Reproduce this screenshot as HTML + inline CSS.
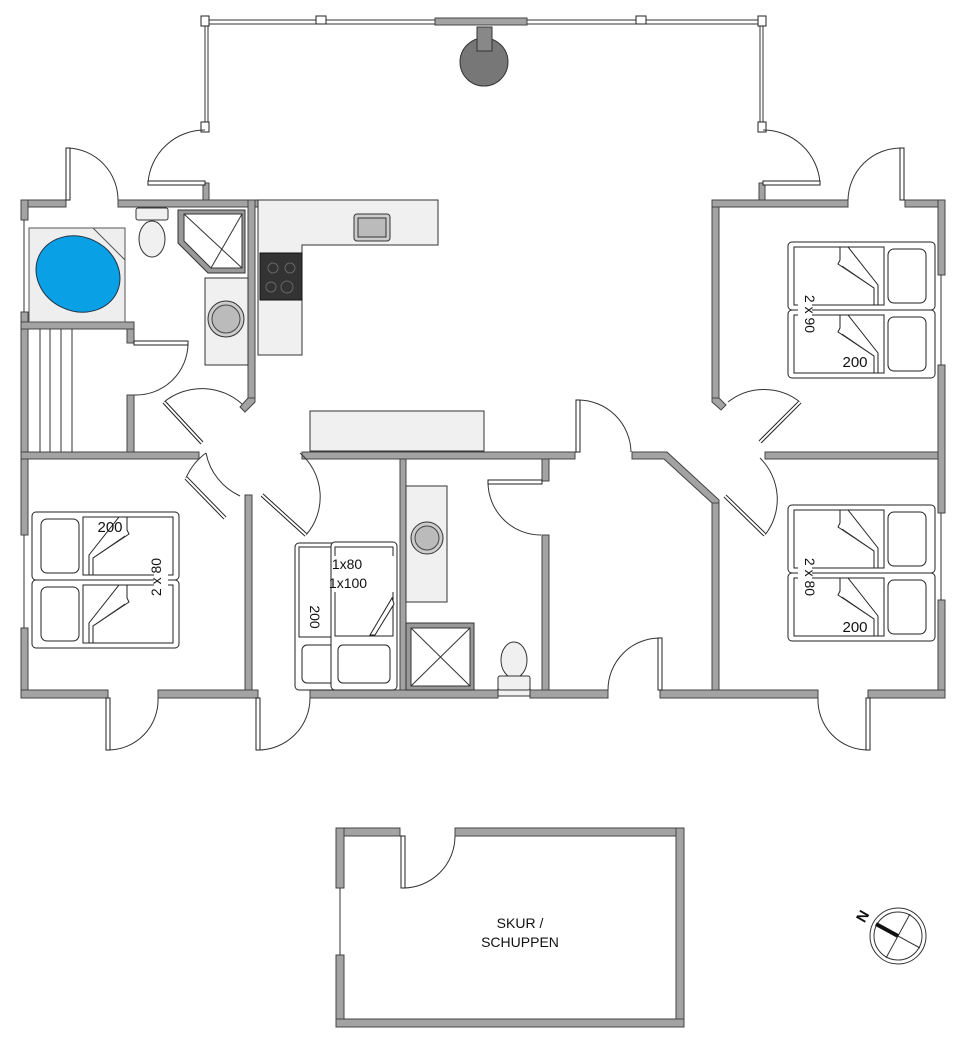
<!DOCTYPE html>
<html><head><meta charset="utf-8"><style>
html,body{margin:0;padding:0;background:#fff;}
svg{display:block}
text{font-family:"Liberation Sans",sans-serif;fill:#111}
.w{fill:#a3a3a3;stroke:#444;stroke-width:1}
.t{fill:none;stroke:#333;stroke-width:1}
.d{fill:#fff;stroke:#222;stroke-width:1}
.c{fill:#f0f0f0;stroke:#333;stroke-width:1}
</style></head><body>
<svg width="964" height="1039" viewBox="0 0 964 1039" xmlns="http://www.w3.org/2000/svg">
<defs>
<g id="bed">
 <rect x="0" y="0" width="147" height="68" rx="4" class="d"/>
 <rect x="6" y="5" width="90" height="58" class="d"/>
 <rect x="100" y="7" width="38" height="54" rx="6" class="d"/>
 <polygon points="52,5 60,5 90,43 90,63 86,63 86,46 50,22 52,18" class="d"/>
 <polyline points="54,24 86,46" class="t"/>
</g>
</defs>

<!-- terrace -->
<g class="t">
<line x1="205" y1="20" x2="762" y2="20"/><line x1="205" y1="24" x2="762" y2="24"/>
<line x1="205" y1="20" x2="205" y2="130"/><line x1="208" y1="20" x2="208" y2="130"/>
<line x1="760" y1="20" x2="760" y2="130"/><line x1="763" y1="20" x2="763" y2="130"/>
</g>
<rect x="435" y="18" width="92" height="7" class="w"/>
<rect x="201" y="16" width="8" height="10" class="d"/><rect x="758" y="16" width="8" height="10" class="d"/>
<rect x="316" y="16" width="10" height="8" class="d"/><rect x="636" y="16" width="10" height="8" class="d"/>
<rect x="201" y="122" width="8" height="10" class="d"/><rect x="758" y="122" width="8" height="10" class="d"/>
<circle cx="484" cy="62" r="24" fill="#777" stroke="#333"/>
<rect x="477" y="27" width="15" height="24" fill="#888" stroke="#333"/>
<rect x="203" y="183" width="6" height="18" class="w"/><rect x="759" y="183" width="6" height="18" class="w"/>
<!-- terrace doors -->
<path d="M148 183 A57 57 0 0 1 205 130" class="t"/><rect x="148" y="181" width="57" height="4" class="d"/>
<path d="M820 183 A57 57 0 0 0 763 130" class="t"/><rect x="763" y="181" width="57" height="4" class="d"/>

<!-- main walls -->
<rect x="21" y="200" width="45" height="7" class="w"/>
<rect x="118" y="200" width="140" height="7" class="w"/>
<rect x="21" y="200" width="7" height="20" class="w"/>
<rect x="21" y="312" width="7" height="223" class="w"/>
<rect x="21" y="628" width="7" height="70" class="w"/>
<line x1="24" y1="220" x2="24" y2="312" class="t"/>
<line x1="24" y1="535" x2="24" y2="628" class="t"/>
<rect x="248" y="200" width="7" height="200" class="w"/>
<polygon points="248,398 255,398 255,402 245,412 240,407" class="w"/>
<rect x="21" y="322" width="113" height="7" class="w"/>
<rect x="127" y="395" width="7" height="60" class="w"/>
<rect x="127" y="329" width="7" height="14" class="w"/>
<rect x="21" y="452" width="178" height="7" class="w"/>
<rect x="302" y="452" width="273" height="7" class="w"/>
<polygon points="632,452 667,452 719,500 719,505 712,505 712,503 664,459 632,459" class="w"/>
<rect x="765" y="452" width="180" height="7" class="w"/>
<rect x="245" y="495" width="7" height="203" class="w"/>
<rect x="400" y="459" width="6" height="231" class="w"/>
<rect x="542" y="459" width="7" height="22" class="w"/>
<rect x="542" y="535" width="7" height="155" class="w"/>
<rect x="712" y="503" width="7" height="190" class="w"/>
<rect x="712" y="200" width="7" height="200" class="w"/>
<polygon points="712,398 719,398 726,405 721,410 712,402" class="w"/>
<rect x="712" y="200" width="136" height="7" class="w"/>
<rect x="905" y="200" width="40" height="7" class="w"/>
<rect x="938" y="200" width="7" height="75" class="w"/>
<rect x="938" y="365" width="7" height="148" class="w"/>
<rect x="938" y="600" width="7" height="98" class="w"/>
<line x1="941" y1="275" x2="941" y2="365" class="t"/>
<line x1="941" y1="513" x2="941" y2="600" class="t"/>
<!-- bottom wall -->
<rect x="21" y="690" width="87" height="8" class="w"/>
<rect x="158" y="690" width="100" height="8" class="w"/>
<rect x="310" y="690" width="188" height="8" class="w"/>
<rect x="530" y="690" width="78" height="8" class="w"/>
<rect x="660" y="690" width="158" height="8" class="w"/>
<rect x="868" y="690" width="77" height="8" class="w"/>
<rect x="498" y="688" width="32" height="8" class="c"/>

<!-- doors -->
<path d="M68 148 A52 52 0 0 1 118 200" class="t"/><rect x="66" y="148" width="4" height="52" class="d"/>
<path d="M848 200 A53 53 0 0 1 901 148" class="t"/><rect x="900" y="148" width="4" height="52" class="d"/>
<path d="M188 343 A52 52 0 0 1 134 395" class="t"/><rect x="134" y="341" width="54" height="4" class="d"/>
<path d="M108 750 A50 50 0 0 0 158 698" class="t"/><rect x="106" y="698" width="4" height="52" class="d"/>
<path d="M258 750 A52 52 0 0 0 310 698" class="t"/><rect x="256" y="698" width="4" height="52" class="d"/>
<path d="M608 690 A52 52 0 0 1 660 638" class="t"/><rect x="658" y="638" width="4" height="52" class="d"/>
<path d="M868 750 A50 50 0 0 1 818 698" class="t"/><rect x="866" y="698" width="4" height="52" class="d"/>
<path d="M578 400 A53 53 0 0 1 631 452" class="t"/><rect x="576" y="400" width="4" height="52" class="d"/>
<path d="M488 482 A53 53 0 0 0 541 535" class="t"/><rect x="488" y="480" width="54" height="4" class="d"/>
<!-- diagonal doors -->
<path d="M164 402 A60 60 0 0 1 242 404" class="t"/><line x1="164" y1="402" x2="202" y2="443" stroke="#222" stroke-width="4"/><line x1="164" y1="402" x2="202" y2="443" stroke="#fff" stroke-width="2"/>
<path d="M240 496 A60 60 0 0 1 206 453" class="t"/><path d="M186 478 A60 60 0 0 1 206 453" class="t"/><line x1="186" y1="478" x2="225" y2="518" stroke="#222" stroke-width="4"/><line x1="186" y1="478" x2="225" y2="518" stroke="#fff" stroke-width="2"/>
<path d="M300 453 A58 58 0 0 1 306 535" class="t"/><line x1="262" y1="495" x2="306" y2="535" stroke="#222" stroke-width="4"/><line x1="262" y1="495" x2="306" y2="535" stroke="#fff" stroke-width="2"/>
<path d="M728 402 A58 58 0 0 1 800 402" class="t"/><line x1="800" y1="402" x2="760" y2="442" stroke="#222" stroke-width="4"/><line x1="800" y1="402" x2="760" y2="442" stroke="#fff" stroke-width="2"/>
<path d="M760 458 A58 58 0 0 1 765 535" class="t"/><line x1="725" y1="496" x2="765" y2="535" stroke="#222" stroke-width="4"/><line x1="725" y1="496" x2="765" y2="535" stroke="#fff" stroke-width="2"/>

<!-- kitchen -->
<polygon points="258,200 438,200 438,245 302,245 302,355 258,355 258,200" class="c"/>
<rect x="260" y="253" width="42" height="47" fill="#333" stroke="#111"/>
<circle cx="273" cy="268" r="5" fill="none" stroke="#666"/><circle cx="290" cy="268" r="5" fill="none" stroke="#666"/>
<circle cx="271" cy="287" r="5" fill="none" stroke="#666"/><circle cx="287" cy="287" r="6" fill="none" stroke="#666"/>
<rect x="354" y="214" width="36" height="27" rx="3" fill="#ccc" stroke="#333"/><rect x="358" y="218" width="28" height="19" fill="#bbb" stroke="#333"/>
<rect x="310" y="411" width="174" height="40" class="c"/>

<!-- bathroom -->
<rect x="29" y="228" width="96" height="94" fill="#eee" stroke="#555"/>
<polygon points="29,228 93,228 125,260 125,322 29,322" fill="#eee" stroke="#555"/>
<ellipse cx="78" cy="274" rx="43" ry="37" transform="rotate(25 78 274)" fill="#0aa0e6" stroke="#234"/>
<rect x="136" y="208" width="32" height="12" rx="2" class="c"/>
<ellipse cx="152" cy="239" rx="13" ry="18" class="c"/>
<polygon points="178,210 245,210 245,273 208,273 178,243" fill="#999" stroke="#333"/>
<polygon points="184,214 242,214 242,268 211,268 184,241" fill="#fff" stroke="#333"/>
<line x1="184" y1="214" x2="242" y2="268" class="t"/><line x1="242" y1="214" x2="211" y2="268" class="t"/>
<rect x="205" y="278" width="43" height="87" class="c"/>
<circle cx="226" cy="319" r="18" fill="#ccc" stroke="#333"/><circle cx="226" cy="319" r="14" fill="#bbb" stroke="#444"/>
<!-- sauna -->
<g class="t"><line x1="40" y1="329" x2="40" y2="452"/><line x1="50" y1="329" x2="50" y2="452"/><line x1="61" y1="329" x2="61" y2="452"/><line x1="72" y1="329" x2="72" y2="452"/></g>

<!-- beds -->
<use href="#bed" x="788" y="242"/><use href="#bed" x="788" y="310"/>
<use href="#bed" x="788" y="505"/><use href="#bed" x="788" y="573"/>
<use href="#bed" transform="translate(179,512) scale(-1,1)"/><use href="#bed" transform="translate(179,580) scale(-1,1)"/>
<rect x="798" y="296" width="14" height="40" fill="#fff"/>
<text x="805" y="314" font-size="14" transform="rotate(90 805 314)" text-anchor="middle">2 x 90</text>
<text x="855" y="367" font-size="15" text-anchor="middle">200</text>
<rect x="798" y="557" width="14" height="40" fill="#fff"/>
<text x="805" y="577" font-size="14" transform="rotate(90 805 577)" text-anchor="middle">2 x 80</text>
<text x="855" y="632" font-size="15" text-anchor="middle">200</text>
<rect x="154" y="557" width="14" height="40" fill="#fff"/>
<text x="161" y="577" font-size="14" transform="rotate(-90 161 577)" text-anchor="middle">2 x 80</text>
<text x="110" y="532" font-size="15" text-anchor="middle">200</text>

<!-- bunk -->
<rect x="295" y="543" width="58" height="147" rx="4" class="d"/>
<rect x="299" y="547" width="50" height="90" class="d"/>
<rect x="302" y="645" width="48" height="38" rx="5" class="d"/>
<rect x="331" y="542" width="66" height="148" rx="4" class="d"/>
<rect x="335" y="547" width="58" height="89" class="d"/>
<rect x="338" y="645" width="52" height="38" rx="5" class="d"/>
<polygon points="370,635 392,598 394,604 375,635" class="d"/>
<rect x="333" y="556" width="62" height="36" fill="#fff"/>
<text x="347" y="569" font-size="14" text-anchor="middle">1x80</text>
<text x="348" y="588" font-size="14" text-anchor="middle">1x100</text>
<text x="310" y="617" font-size="14" transform="rotate(90 310 617)" text-anchor="middle">200</text>

<!-- bath 2 -->
<rect x="406" y="486" width="41" height="116" class="c"/>
<circle cx="427" cy="538" r="16" fill="#ccc" stroke="#333"/><circle cx="427" cy="538" r="12" fill="#bbb" stroke="#444"/>
<rect x="406" y="623" width="68" height="67" fill="#999" stroke="#333"/>
<rect x="411" y="628" width="59" height="58" fill="#fff" stroke="#333"/>
<line x1="411" y1="628" x2="470" y2="686" class="t"/><line x1="470" y1="628" x2="411" y2="686" class="t"/>
<ellipse cx="514" cy="660" rx="13" ry="18" class="c"/>
<rect x="498" y="676" width="32" height="14" rx="2" class="c"/>

<!-- shed -->
<rect x="336" y="828" width="64" height="8" class="w"/>
<rect x="455" y="828" width="229" height="8" class="w"/>
<rect x="336" y="828" width="8" height="60" class="w"/>
<rect x="336" y="955" width="8" height="72" class="w"/>
<line x1="340" y1="888" x2="340" y2="955" class="t"/>
<rect x="676" y="828" width="8" height="199" class="w"/>
<rect x="336" y="1019" width="348" height="8" class="w"/>
<path d="M403 888 A52 52 0 0 0 455 836" class="t"/><rect x="401" y="836" width="4" height="52" class="d"/>
<text x="520" y="928" font-size="14" text-anchor="middle">SKUR /</text>
<text x="520" y="947" font-size="14" text-anchor="middle">SCHUPPEN</text>

<!-- compass -->
<circle cx="898" cy="936" r="28" fill="#fff" stroke="#333"/><circle cx="898" cy="936" r="24" fill="#fff" stroke="#333"/>
<line x1="876" y1="924" x2="920" y2="948" class="t"/><line x1="910" y1="914" x2="886" y2="958" class="t"/>
<line x1="876" y1="924" x2="898" y2="936" stroke="#111" stroke-width="4"/>
<text x="860" y="926" font-size="15" font-weight="bold" transform="rotate(-60 860 921)">N</text>
</svg>
</body></html>
